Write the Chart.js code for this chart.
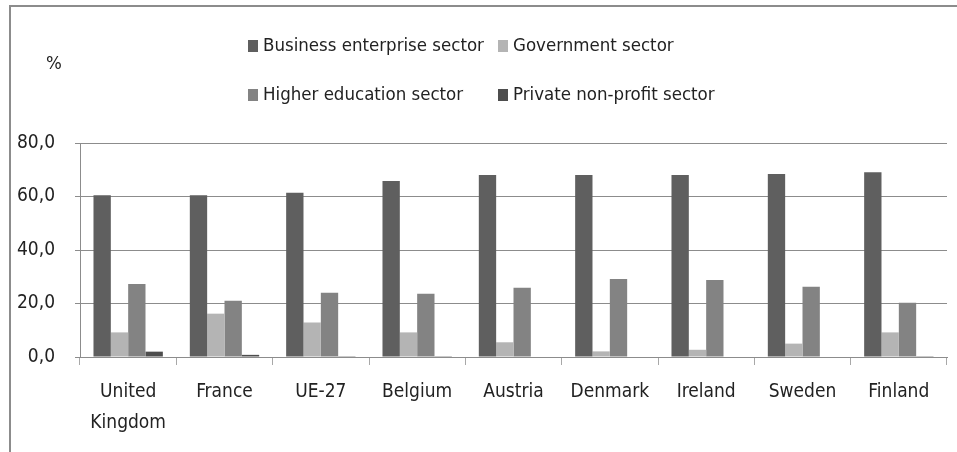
<!DOCTYPE html>
<html>
<head>
<meta charset="utf-8">
<script src="https://cdn.jsdelivr.net/npm/chart.js@4.4.1/dist/chart.umd.min.js"></script>
<style>
  html, body { margin: 0; padding: 0; background: #fff; }
  #wrap { position: relative; width: 957px; height: 452px; overflow: hidden; }
  #frame { position: absolute; left: 9px; top: 5px; right: -5px; bottom: -5px;
           border-top: 2px solid #8c8c8c; border-left: 2px solid #8c8c8c; }
  #chart { position: absolute; left: 0; top: 0; }
  .lbl { position: absolute; font-family: "Liberation Sans Narrow", "DejaVu Sans Condensed", sans-serif;
         font-size: 18.5px; color: #222; white-space: nowrap; line-height: 20px; }
  .sw { display: inline-block; width: 10px; height: 12px; margin-right: 5px; vertical-align: -1px; }
</style>
</head>
<body>
<div id="wrap">
  <div id="frame"></div>
  <canvas id="chart" width="957" height="452"></canvas>
  <div class="lbl" style="left:46px; top:53px;">%</div>
  <div id="legend"></div>
</div>
<script>
const countries = [["United", "Kingdom"], "France", "UE-27", "Belgium", "Austria", "Denmark", "Ireland", "Sweden", "Finland"];
const seriesNames = ["Business enterprise sector", "Government sector", "Higher education sector", "Private non-profit sector"];
const business = [60.5, 60.5, 61.4, 65.8, 68.0, 68.0, 68.0, 68.4, 69.1];
const government = [9.2, 16.2, 12.9, 9.2, 5.5, 2.1, 2.7, 5.0, 9.2];
const higherEd = [27.3, 21.0, 24.0, 23.6, 25.9, 29.2, 28.8, 26.3, 20.3];
const privateNP = [2.0, 0.8, 0.3, 0.3, 0, 0, 0, 0, 0.3];
const yTicks = [0, 20, 40, 60, 80];
const colors = ["#5f5f5f", "#b4b4b4", "#838383", "#4d4d4d"];

const font = "'Liberation Sans Narrow', 'DejaVu Sans Condensed', sans-serif";
const values = [business, government, higherEd, privateNP];

// legend in two columns, like the original
const legendPos = [[248, 35], [498, 35], [248, 84], [498, 84]];
const legend = document.getElementById('legend');
seriesNames.forEach((name, i) => {
  const d = document.createElement('div');
  d.className = 'lbl';
  d.style.left = legendPos[i][0] + 'px';
  d.style.top = legendPos[i][1] + 'px';
  d.innerHTML = `<span class="sw" style="background:${colors[i]}"></span>${name}`;
  legend.appendChild(d);
});

new Chart(document.getElementById('chart'), {
  type: 'bar',
  data: {
    labels: countries,
    datasets: seriesNames.map((name, i) => ({
      label: name,
      data: values[i],
      backgroundColor: colors[i],
      borderWidth: 0,
      categoryPercentage: 0.72,
      barPercentage: 1
    }))
  },
  options: {
    responsive: false,
    animation: false,
    layout: { padding: { left: 10, right: 10, top: 143, bottom: 0 } },
    plugins: { legend: { display: false }, tooltip: { enabled: false } },
    scales: {
      x: {
        grid: { offset: true, drawOnChartArea: false, drawTicks: true, tickLength: 8, color: '#a8a8a8' },
        border: { color: '#8c8c8c' },
        ticks: { color: '#222', padding: 12, maxRotation: 0, autoSkip: false,
                 font: { family: font, size: 19, lineHeight: 1.63 } },
        afterFit(scale) { scale.height = 95; }
      },
      y: {
        min: 0, max: 80,
        afterBuildTicks(scale) { scale.ticks = yTicks.map(v => ({ value: v })); },
        grid: { color: '#8c8c8c', tickLength: 5 },
        border: { color: '#8c8c8c' },
        ticks: { color: '#222', padding: 20,
                 callback: v => v.toFixed(1).replace('.', ','),
                 font: { family: font, size: 19 } },
        afterFit(scale) { scale.width = 70; }
      }
    }
  }
});
</script>
</body>
</html>
